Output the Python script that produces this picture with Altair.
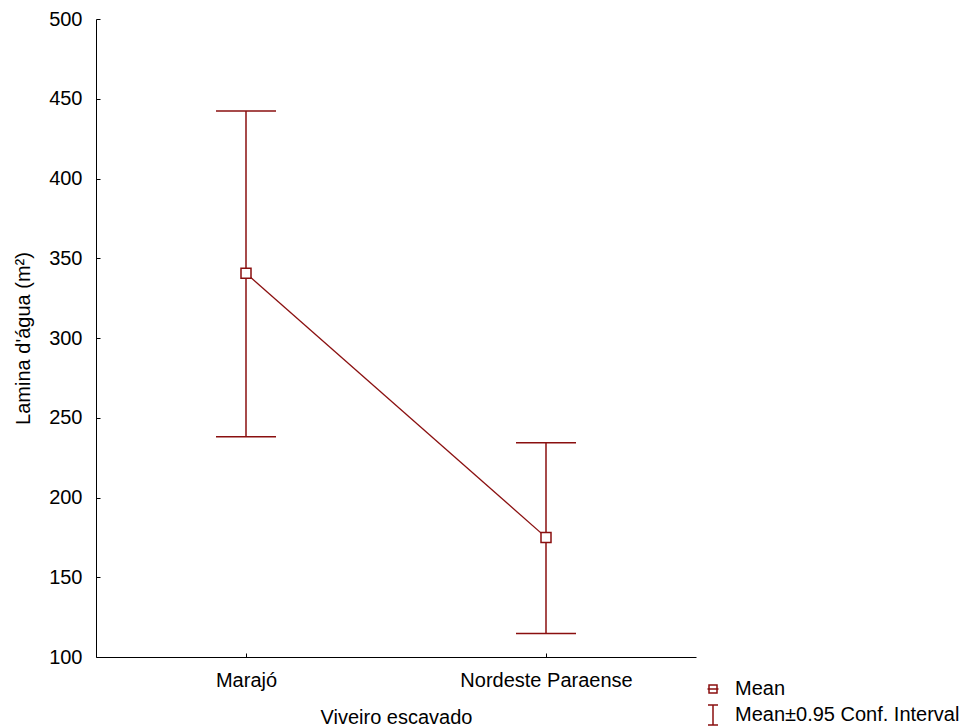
import altair as alt
import pandas as pd

# ---- data ----
regions = ["Marajó", "Nordeste Paraense"]
means = [340.6, 175.0]
lower = [238.1, 114.8]
upper = [442.3, 234.4]
y_ticks = [100, 150, 200, 250, 300, 350, 400, 450, 500]
series = ["Mean", "Mean±0.95 Conf. Interval"]

df = pd.DataFrame({
    "region": regions,
    "mean": means,
    "lo": lower,
    "hi": upper,
    "series": [series[0]] * len(regions),
})

RED = "#8a0f0f"
FONT = "Liberation Sans"
FS = 20

xscale = alt.Scale(type="point", domain=regions, padding=0.5)
yscale = alt.Scale(domain=[100, 500], nice=False, zero=False)

# domain-only axes (the axis lines)
x_line_axis = alt.Axis(orient="bottom", domain=True, domainColor="black", domainWidth=1,
                       ticks=False, labels=False, title=None, grid=False)
y_line_axis = alt.Axis(orient="left", domain=True, domainColor="black", domainWidth=1,
                       ticks=False, labels=False, title=None, grid=False)

# labelled axes with inward ticks (offset into the plot)
x_lab_axis = alt.Axis(orient="bottom", offset=-4, domain=False, ticks=True, tickSize=4,
                      tickColor="black", labelFont=FONT, labelFontSize=FS, labelColor="black",
                      labelPadding=13, labelAngle=0, title="Viveiro escavado",
                      titleFont=FONT, titleFontSize=FS, titleFontWeight="normal",
                      titleColor="black", titlePadding=17, grid=False)
y_lab_axis = alt.Axis(orient="left", offset=-4, domain=False, ticks=True, tickSize=4,
                      tickColor="black", values=y_ticks, labelFont=FONT, labelFontSize=FS,
                      labelColor="black", labelPadding=14, title="Lamina d'água (m²)",
                      titleFont=FONT, titleFontSize=FS, titleFontWeight="normal",
                      titleColor="black", titlePadding=15, grid=False)

base = alt.Chart(df)

line = base.mark_line(color=RED, strokeWidth=1.3, opacity=1).encode(
    x=alt.X("region:N", scale=xscale, sort=regions, axis=x_line_axis),
    y=alt.Y("mean:Q", scale=yscale, axis=y_line_axis),
)

rules = base.mark_rule(color=RED, strokeWidth=1.5, opacity=1).encode(
    x=alt.X("region:N", scale=xscale, sort=regions, axis=None),
    y=alt.Y("lo:Q", scale=yscale, axis=None),
    y2="hi:Q",
)

cap_lo = base.mark_tick(color=RED, size=60, thickness=1.5, orient="horizontal",
                        opacity=1).encode(
    x=alt.X("region:N", scale=xscale, sort=regions, axis=None),
    y=alt.Y("lo:Q", scale=yscale, axis=None),
)
cap_hi = base.mark_tick(color=RED, size=60, thickness=1.5, orient="horizontal",
                        opacity=1).encode(
    x=alt.X("region:N", scale=xscale, sort=regions, axis=None),
    y=alt.Y("hi:Q", scale=yscale, axis=None),
)

points = base.mark_point(shape="square", size=100, filled=False, color=RED,
                         strokeWidth=1.5, fill="white", fillOpacity=1, opacity=1).encode(
    x=alt.X("region:N", scale=xscale, sort=regions, axis=x_lab_axis),
    y=alt.Y("mean:Q", scale=yscale, axis=y_lab_axis),
)

mean_path = "M-0.55,0H0.55M-0.4,-0.4H0.4V0.4H-0.4Z"
ci_path = "M-0.5,-1H0.5M0,-1V1M-0.5,1H0.5"

legend_layer = base.mark_point(filled=False, color=RED, strokeWidth=1.5, opacity=1).encode(
    shape=alt.Shape("series:N", scale=alt.Scale(domain=series, range=[mean_path, ci_path]),
                    legend=alt.Legend(title=None, orient="none", legendX=606, legendY=659,
                                      symbolSize=400, symbolStrokeColor=RED,
                                      symbolFillColor="transparent", symbolStrokeWidth=1.5,
                                      symbolOpacity=1,
                                      labelFont=FONT, labelFontSize=FS, labelColor="black",
                                      labelOffset=11, rowPadding=3, padding=0,
                                      labelLimit=400)),
).transform_filter("false")

chart = alt.layer(line, rules, cap_lo, cap_hi, points, legend_layer).resolve_axis(
    x="independent", y="independent"
).properties(
    width=600,
    height=638,
    autosize=alt.AutoSizeParams(type="none"),
    padding={"left": 88, "top": 11, "right": 266, "bottom": 69},
    background="white",
).configure_view(stroke=None)

chart.save("out.html", embed_options={"renderer": "svg", "actions": False})
